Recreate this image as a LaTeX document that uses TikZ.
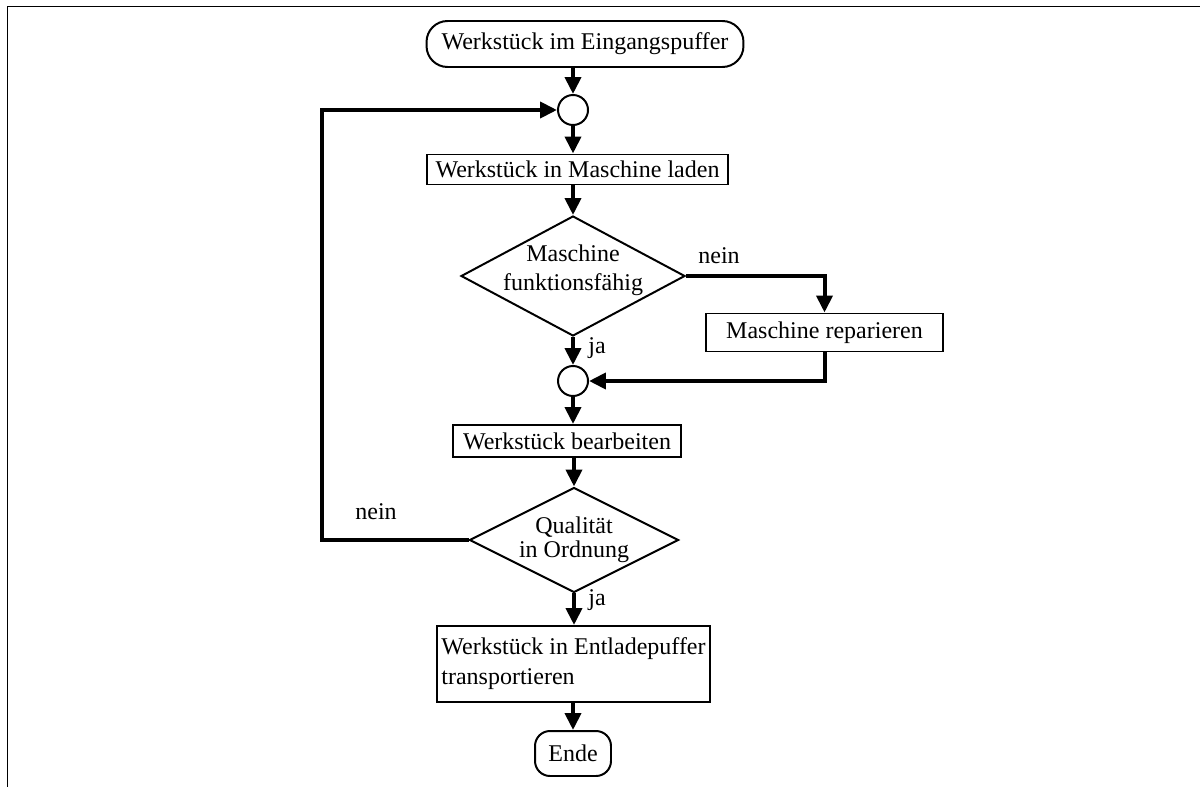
\documentclass[tikz,border=0pt]{standalone}
\usepackage{fontspec}
\setmainfont{Liberation Serif}
\usetikzlibrary{arrows.meta,shapes.geometric}

\tikzset{
  txt/.style={font=\fontsize{13.66pt}{16.4pt}\selectfont, inner sep=0pt},
  outline/.style={draw, line width=1.13pt, txt},
  procbox/.style={outline, rectangle, inner sep=2pt},
  termbox/.style={outline, rectangle, rounded corners=#1},
  joint/.style={outline, circle, minimum size=0.6cm},
  decision/.style={outline, diamond},
  flow/.style={line width=2.27pt, -{Triangle[length=9.6pt,width=9pt]}},
  flowline/.style={line width=2.27pt},
  lbl/.style={txt, anchor=base west},
  frame/.style={line width=1.13pt}
}

\begin{document}
\begin{tikzpicture}[x=0.02cm, y=-0.02cm]
  \useasboundingbox (0,0) rectangle (1200,787);

  % page frame (top and left edge)
  \coordinate (fbl) at (7.5,787);
  \coordinate (ftl) at (7.5,6.5);
  \coordinate (ftr) at (1200,6.5);
  \draw[frame] (fbl) -- (ftl) -- (ftr);

  % nodes
  \node[termbox=0.42cm, minimum width=6.34cm, minimum height=0.92cm] (start) at (585,44) {Werkstück im Eingangspuffer};
  \node[joint] (c1) at (573,110) {};
  \node[procbox, minimum width=6.02cm, minimum height=0.6cm] (load) at (577.5,169.5) {Werkstück in Maschine laden};
  \node[decision, minimum width=4.48cm, minimum height=2.4cm] (d1) at (573,276) {};
  \node[txt, align=center, font=\fontsize{13.66pt}{16.4pt}\selectfont] (d1t) at (573,270) {Maschine\\funktionsfähig};
  \node[procbox, minimum width=4.74cm, minimum height=0.76cm] (rep) at (824.5,332.5) {Maschine reparieren};
  \node[joint] (c2) at (573,381) {};
  \node[procbox, minimum width=4.56cm, minimum height=0.64cm] (work) at (567,441) {Werkstück bearbeiten};
  \node[decision, minimum width=4.18cm, minimum height=2.1cm] (d2) at (574,540) {};
  \node[txt, align=center, font=\fontsize{13.66pt}{13.6pt}\selectfont] (d2t) at (574,539.5) {Qualität\\in Ordnung};
  \node[procbox, align=left, font=\fontsize{13.66pt}{17pt}\selectfont, minimum width=5.46cm, minimum height=1.52cm] (unload) at (573.5,664) {Werkstück in Entladepuffer\\transportieren};
  \node[termbox=0.3cm, minimum width=1.52cm, minimum height=0.9cm] (end) at (573,753.5) {Ende};

  % connectors
  \draw[flow] (start.south -| c1.north) -- (c1.north);
  \draw[flow] (c1.south) -- (c1.south |- load.north);
  \draw[flow] (load.south -| d1.north) -- (d1.north);
  \draw[flow] (d1.east) -| (rep.north);
  \draw[flow] (rep.south) |- (c2.east);
  \draw[flow] (d1.south) -- (c2.north);
  \draw[flow] (c2.south) -- (c2.south |- work.north);
  \draw[flow] (work.south -| d2.north) -- (d2.north);
  \coordinate (loop) at (322,540);
  \draw[flow] (d2.west) -- (loop) -- (loop |- c1.west) -- (c1.west);
  \draw[flow] (d2.south) -- (d2.south |- unload.north);
  \draw[flow] (unload.south -| end.north) -- (end.north);

  % branch labels
  \node[lbl] (n1) at (698,263) {nein};
  \node[lbl] (j1) at (588,353) {ja};
  \node[lbl] (n2) at (355,519) {nein};
  \node[lbl] (j2) at (588,605) {ja};
\end{tikzpicture}
\end{document}
